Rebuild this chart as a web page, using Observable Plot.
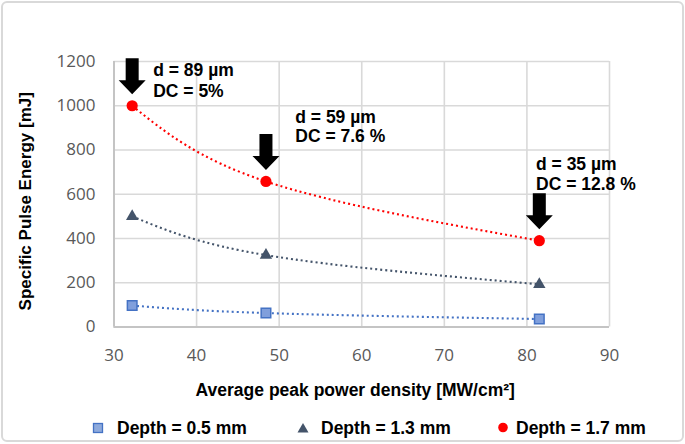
<!DOCTYPE html>
<html>
<head>
<meta charset="utf-8">
<script src="https://cdn.jsdelivr.net/npm/d3@7"></script>
<script src="https://cdn.jsdelivr.net/npm/@observablehq/plot@0.6"></script>
<style>
  body { margin: 0; background: #fff; }
  #wrap { position: relative; width: 685px; height: 444px; overflow: hidden; background: #fff; }
  #border { position: absolute; left: 1px; top: 1px; width: 683px; height: 441px; border: 2px solid #d9d9d9; border-radius: 6px; box-sizing: border-box; pointer-events: none; }
  #chart { position: absolute; left: 0; top: 0; }
  #legend { position: absolute; left: 0; top: 417px; width: 685px; height: 22px; font: bold 17.5px "Liberation Sans", Arial, sans-serif; color: #000; }
  #legend .mk { position: absolute; top: 3px; }
  #legend .tx { position: absolute; top: 0; line-height: 22px; white-space: nowrap; }
</style>
</head>
<body>
<div id="wrap">
  <div id="chart"></div>
  <div id="legend"></div>
  <div id="border"></div>
</div>
<script>
// ---- data ----
const xValues = [32.2, 48.4, 81.5];
const depth05 = [97, 63, 36];
const depth13 = [500, 325, 193];
const depth17 = [1000, 658, 390];
const seriesNames = ["Depth = 0.5 mm", "Depth = 1.3 mm", "Depth = 1.7 mm"];
const xTicks = [30, 40, 50, 60, 70, 80, 90];
const yTicks = [0, 200, 400, 600, 800, 1000, 1200];
const annoLine1 = ["d = 89 µm", "d = 59 µm", "d = 35 µm"];
const annoLine2 = ["DC = 5%", "DC = 7.6 %", "DC = 12.8 %"];
const xLabel = "Average peak power density [MW/cm²]";
const yLabel = "Specific Pulse Energy [mJ]";

// ---- tables ----
const rows = (vals, name) => xValues.map((x, i) => ({x, y: vals[i], series: name}));
const s05 = rows(depth05, seriesNames[0]);
const s13 = rows(depth13, seriesNames[1]);
const s17 = rows(depth17, seriesNames[2]);
const annos = xValues.map((x, i) => ({x, y: depth17[i], label: annoLine1[i] + "\n" + annoLine2[i]}));

// block arrow symbol, tip just above the point
const arrowSymbol = {
  draw(ctx) {
    ctx.moveTo(-6.5, -47.5);
    ctx.lineTo(6.5, -47.5);
    ctx.lineTo(6.5, -25.5);
    ctx.lineTo(13.5, -25.5);
    ctx.lineTo(0, -11.5);
    ctx.lineTo(-13.5, -25.5);
    ctx.lineTo(-6.5, -25.5);
    ctx.closePath();
  }
};

const boldFont = {fontFamily: '"Liberation Sans", Arial, sans-serif', fontWeight: "bold", fill: "#000"};
const dotted = {x: "x", y: "y", curve: "natural", strokeWidth: 2.1, strokeDasharray: "2 3", strokeLinecap: "butt"};

const plot = Plot.plot({
  width: 685,
  height: 405,
  marginLeft: 113.5,
  marginRight: 76,
  marginTop: 61,
  marginBottom: 78.5,
  style: {fontFamily: '"Open Sans", sans-serif', fontSize: "17px", color: "#595959", background: "transparent", overflow: "visible"},
  x: {domain: [30, 90]},
  y: {domain: [0, 1200]},
  marks: [
    Plot.gridX(xTicks, {stroke: "#d9d9d9", strokeOpacity: 1, strokeWidth: 1.6}),
    Plot.gridY(yTicks, {stroke: "#d9d9d9", strokeOpacity: 1, strokeWidth: 1.6}),
    Plot.ruleX([30], {stroke: "#c4c4c4", strokeWidth: 2}),
    Plot.ruleY([0], {stroke: "#c4c4c4", strokeWidth: 2}),
    Plot.axisX(xTicks, {tickSize: 0, tickPadding: 22, fontSize: 17, label: null, tickFormat: (d) => String(d)}),
    Plot.axisY(yTicks, {tickSize: 0, tickPadding: 18.5, fontSize: 17, label: null, tickFormat: (d) => String(d)}),
    Plot.line(s05, {...dotted, stroke: "#4472c4"}),
    Plot.line(s13, {...dotted, stroke: "#44546a"}),
    Plot.line(s17, {...dotted, stroke: "#ff0000"}),
    Plot.dot(s05, {x: "x", y: "y", symbol: "square", r: 5.4, fill: "#809fdc", stroke: "#4472c4", strokeWidth: 1.5}),
    Plot.dot(s13, {x: "x", y: "y", symbol: "triangle", r: 4.6, fill: "#44546a"}),
    Plot.dot(s17, {x: "x", y: "y", r: 5.6, fill: "#ff0000"}),
    Plot.dot(s17, {x: "x", y: "y", symbol: arrowSymbol, r: 5, fill: "#000"}),
    Plot.text(annos.slice(0, 1), {x: "x", y: "y", text: "label", ...boldFont, fontSize: 17.5, textAnchor: "start", lineAnchor: "top", lineHeight: 1.18, dx: 21, dy: -44}),
    Plot.text(annos.slice(1, 2), {x: "x", y: "y", text: "label", ...boldFont, fontSize: 17.5, textAnchor: "start", lineAnchor: "top", lineHeight: 1.08, dx: 29.3, dy: -72}),
    Plot.text(annos.slice(2, 3), {x: "x", y: "y", text: "label", ...boldFont, fontSize: 17.5, textAnchor: "start", lineAnchor: "top", lineHeight: 1.16, dx: -3.3, dy: -85}),
    Plot.text([xLabel], {text: (d) => d, frameAnchor: "bottom", textAnchor: "middle", lineAnchor: "middle", dx: -6.5, dy: 63, ...boldFont, fontSize: 17.5}),
    Plot.text([yLabel], {text: (d) => d, frameAnchor: "left", textAnchor: "middle", rotate: -90, lineAnchor: "middle", dx: -88.5, dy: 7, ...boldFont, fontSize: 17})
  ]
});
document.getElementById("chart").appendChild(plot);

// ---- legend (HTML below the svg) ----
const legendMarkers = [
  '<svg width="12" height="16"><rect x="1.5" y="3.5" width="9" height="9" fill="#8eaadc" stroke="#4472c4" stroke-width="1.3"/></svg>',
  '<svg width="12" height="16"><path d="M6,3 L11.5,12.5 L0.5,12.5 Z" fill="#44546a"/></svg>',
  '<svg width="12" height="16"><circle cx="6" cy="7.5" r="4.8" fill="#ff0000"/></svg>'
];
const markerLeft = [92, 297, 497];
const textLeft = [117, 321, 516];
const legend = document.getElementById("legend");
seriesNames.forEach((name, i) => {
  const m = document.createElement("div");
  m.className = "mk";
  m.style.left = markerLeft[i] + "px";
  m.innerHTML = legendMarkers[i];
  legend.appendChild(m);
  const t = document.createElement("div");
  t.className = "tx";
  t.style.left = textLeft[i] + "px";
  t.textContent = name;
  legend.appendChild(t);
});
</script>
</body>
</html>
